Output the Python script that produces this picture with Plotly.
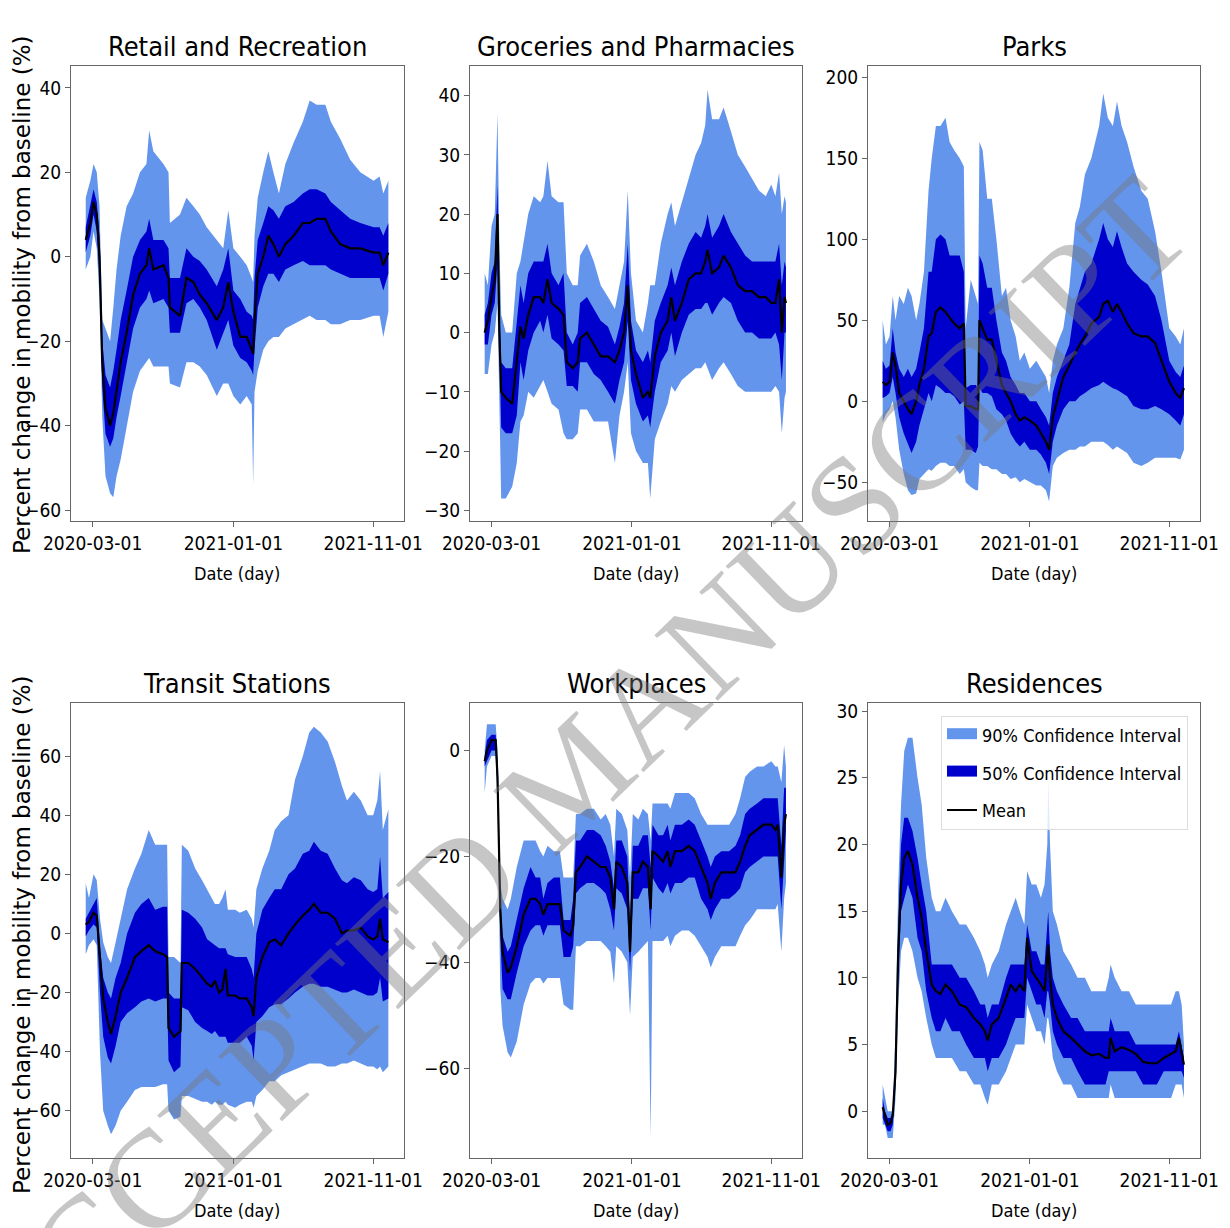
import plotly.graph_objects as go

LIGHT = "#6495ED"
DARK = "#0000CD"
NARROW = "DejaVu Sans Condensed, Liberation Sans Narrow, sans-serif"

# ---------------- Retail and Recreation ----------------
retail_dates = ["2020-02-15","2020-02-25","2020-03-03","2020-03-10","2020-03-16","2020-03-22","2020-03-29","2020-04-08","2020-04-15","2020-04-22","2020-05-01","2020-05-14","2020-05-28","2020-06-12","2020-06-26","2020-07-02","2020-07-11","2020-08-02","2020-08-13","2020-08-16","2020-09-07","2020-09-21","2020-10-06","2020-10-20","2020-11-04","2020-11-26","2020-12-10","2020-12-21","2021-01-01","2021-01-16","2021-01-30","2021-02-10","2021-02-13","2021-02-16","2021-02-23","2021-03-07","2021-03-18","2021-03-29","2021-04-10","2021-04-24","2021-05-12","2021-06-01","2021-06-16","2021-07-01","2021-07-20","2021-08-01","2021-08-21","2021-09-12","2021-10-04","2021-11-02","2021-11-15","2021-11-23","2021-12-04"]
retail_lo90 = [-3,0,6,2,-10,-38,-52,-56,-57,-52,-48,-40,-32,-27,-25,-24,-26,-26,-26,-30,-31,-25,-25,-26,-28,-33,-30,-30,-33,-35,-33,-35,-54,-32,-27,-22,-20,-19,-19,-17,-16,-15,-14,-15,-15,-16,-16,-15,-15,-14,-14,-19,-13]
retail_lo50 = [1,5,10,6,-5,-31,-42,-45,-43,-38,-33,-25,-17,-12,-10,-8,-11,-10,-12,-18,-18,-11,-10,-12,-15,-22,-18,-15,-21,-24,-25,-27,-28,-22,-12,-7,-4,-4,-6,-3,-2,-1,-2,-2,-2,-3,-4,-5,-5,-5,-5,-8,-4]
retail_mean = [4,8,13,10,0,-25,-36,-40,-37,-32,-25,-18,-9,-4,-2,2,-3,-2,-5,-12,-14,-5,-6,-9,-11,-15,-12,-6,-13,-19,-19,-22,-23,-15,-4,0,5,3,0,3,5,8,8,9,9,6,3,2,2,1,1,-2,1]
retail_hi50 = [7,12,16,13,5,-20,-28,-31,-27,-22,-15,-8,0,4,6,9,4,4,2,-5,-5,2,0,-1,-3,-7,-3,2,-8,-10,-13,-14,-15,-5,4,8,12,11,9,12,13,15,16,16,15,13,11,9,8,7,7,5,8]
retail_hi90 = [14,18,22,20,12,-15,-17,-20,-12,-3,5,12,15,20,22,30,25,22,20,8,10,14,12,10,7,4,2,11,2,0,-2,-5,-6,5,14,20,25,20,15,22,27,32,37,36,36,32,28,23,20,18,19,15,18]

# ---------------- Groceries and Pharmacies ----------------
groc_dates = ["2020-02-15","2020-02-22","2020-03-01","2020-03-08","2020-03-14","2020-03-18","2020-03-22","2020-04-01","2020-04-15","2020-04-25","2020-05-03","2020-05-10","2020-05-20","2020-06-01","2020-06-15","2020-06-22","2020-07-01","2020-07-10","2020-07-25","2020-08-05","2020-08-12","2020-08-25","2020-09-05","2020-09-10","2020-09-25","2020-10-10","2020-10-25","2020-11-10","2020-11-25","2020-12-05","2020-12-15","2020-12-23","2020-12-30","2021-01-10","2021-01-25","2021-02-05","2021-02-10","2021-02-20","2021-03-05","2021-03-20","2021-03-28","2021-04-05","2021-04-20","2021-05-05","2021-05-20","2021-06-01","2021-06-10","2021-06-15","2021-06-25","2021-07-10","2021-07-20","2021-08-05","2021-08-20","2021-09-05","2021-09-20","2021-10-05","2021-10-20","2021-11-01","2021-11-10","2021-11-18","2021-11-24","2021-11-30","2021-12-03"]
groc_lo90 = [-7,-7,-2,0,5,-15,-28,-28,-26,-22,-15,-14,-10,-11,-9,-8,-10,-12,-13,-17,-18,-18,-17,-13,-13,-15,-15,-15,-22,-14,-10,-5,-17,-20,-22,-22,-28,-18,-15,-12,-9,-10,-8,-7,-6,-6,-5,-6,-8,-6,-5,-7,-9,-10,-10,-10,-10,-10,-9,-10,-17,-11,-10]
groc_lo50 = [-2,-2,3,5,12,-5,-16,-17,-17,-14,-5,-8,-3,0,2,0,3,-1,-2,-3,-9,-9,-10,-5,-5,-7,-8,-10,-12,-8,-5,2,-8,-12,-15,-14,-16,-10,-5,-3,0,-4,0,3,4,4,5,5,3,5,6,5,2,0,0,-1,-1,-1,0,-2,-8,0,0]
groc_mean = [0,2,6,9,20,0,-10,-11,-12,-5,1,-1,3,6,6,5,9,5,4,3,-5,-6,-5,-1,0,-2,-4,-4,-5,-3,0,8,-3,-7,-11,-10,-11,-4,0,2,6,2,5,9,10,10,12,14,10,11,13,11,8,7,7,6,6,5,5,9,0,6,5]
groc_hi50 = [3,5,10,12,25,5,-5,-6,-6,2,8,5,10,12,12,12,15,10,8,10,0,-2,0,5,6,4,2,1,-2,1,5,15,2,-3,-5,-3,-5,2,5,8,11,8,12,15,17,16,18,20,16,18,20,17,15,13,12,12,12,12,12,15,8,12,11]
groc_hi90 = [10,8,18,20,37,15,3,0,0,10,12,15,20,23,22,23,29,23,22,22,10,8,8,13,15,12,8,6,4,8,12,24,10,2,0,5,8,8,15,20,22,18,22,26,30,32,35,41,36,36,38,34,30,28,26,24,23,25,23,27,20,23,22]

# ---------------- Parks ----------------
parks_dates = ["2020-02-15","2020-02-22","2020-03-01","2020-03-08","2020-03-14","2020-03-22","2020-04-01","2020-04-10","2020-04-18","2020-04-28","2020-05-05","2020-05-15","2020-05-25","2020-06-01","2020-06-10","2020-06-20","2020-07-01","2020-07-10","2020-07-20","2020-08-01","2020-08-10","2020-08-14","2020-08-25","2020-09-05","2020-09-10","2020-09-13","2020-09-20","2020-09-30","2020-10-10","2020-10-20","2020-11-01","2020-11-10","2020-11-20","2020-12-01","2020-12-10","2020-12-20","2021-01-01","2021-01-15","2021-01-25","2021-02-05","2021-02-12","2021-02-20","2021-03-01","2021-03-15","2021-03-28","2021-04-10","2021-04-20","2021-05-01","2021-05-15","2021-06-01","2021-06-10","2021-06-20","2021-07-01","2021-07-10","2021-07-20","2021-08-01","2021-08-15","2021-09-01","2021-09-15","2021-10-01","2021-10-15","2021-11-01","2021-11-15","2021-11-25","2021-12-03"]
parks_lo90 = [-13,-8,-5,0,-10,-30,-45,-55,-58,-57,-48,-45,-42,-43,-40,-38,-38,-40,-40,-45,-42,-50,-53,-55,-55,-38,-40,-40,-42,-42,-45,-45,-48,-47,-50,-48,-50,-52,-52,-55,-62,-40,-35,-32,-30,-30,-28,-28,-25,-25,-25,-27,-30,-28,-30,-32,-38,-40,-38,-35,-35,-35,-35,-36,-30]
parks_lo50 = [2,3,5,15,5,-10,-20,-27,-32,-25,-15,-5,5,0,10,8,5,5,3,-2,0,-30,-30,-32,-28,8,5,5,3,-5,-8,-12,-20,-25,-28,-25,-30,-30,-33,-38,-45,-25,-15,-5,0,0,3,5,8,10,12,10,8,7,5,3,-3,-5,-5,-3,-5,-8,-12,-15,-8]
parks_mean = [12,10,12,30,22,5,0,-5,-8,0,10,20,40,42,55,58,55,52,48,45,48,-3,-3,-5,-5,50,45,38,38,25,10,5,0,-8,-12,-10,-12,-15,-20,-25,-30,-10,0,15,22,30,35,40,48,52,60,62,55,60,55,48,42,40,40,36,25,12,5,2,8]
parks_hi50 = [25,20,22,45,30,20,15,20,15,20,30,45,80,80,100,103,100,90,90,90,80,8,10,10,8,90,85,70,70,50,30,25,15,10,5,5,0,0,-5,-10,-15,5,15,25,35,60,70,80,85,100,110,100,95,105,95,85,80,75,72,65,50,25,18,15,22]
parks_hi90 = [50,35,40,65,50,65,60,70,65,50,60,80,130,150,170,170,175,160,155,150,145,45,75,65,60,160,155,125,125,100,65,70,50,40,25,30,20,25,20,15,5,25,35,45,70,110,120,140,150,170,190,175,170,185,170,160,145,130,125,105,80,45,40,35,45]

# ---------------- Transit Stations ----------------
transit_dates = ["2020-02-15","2020-02-22","2020-03-03","2020-03-10","2020-03-17","2020-03-24","2020-04-03","2020-04-10","2020-04-20","2020-05-01","2020-05-15","2020-06-01","2020-06-15","2020-07-01","2020-07-15","2020-08-01","2020-08-10","2020-08-13","2020-08-25","2020-09-08","2020-09-11","2020-09-25","2020-10-10","2020-10-25","2020-11-05","2020-11-15","2020-11-22","2020-12-01","2020-12-08","2020-12-15","2020-12-20","2021-01-05","2021-01-15","2021-01-30","2021-02-10","2021-02-14","2021-02-20","2021-03-05","2021-03-20","2021-04-01","2021-04-15","2021-05-01","2021-05-15","2021-06-01","2021-06-15","2021-06-25","2021-07-10","2021-07-25","2021-08-10","2021-08-25","2021-09-05","2021-09-20","2021-10-05","2021-10-20","2021-11-01","2021-11-10","2021-11-16","2021-11-22","2021-12-04"]
transit_lo90 = [-7,-4,-2,-4,-40,-60,-65,-68,-65,-60,-57,-53,-52,-52,-52,-51,-51,-60,-63,-62,-55,-55,-56,-57,-57,-58,-57,-58,-58,-57,-58,-59,-58,-57,-57,-59,-55,-53,-50,-50,-48,-47,-46,-45,-44,-44,-44,-45,-45,-44,-44,-43,-44,-45,-45,-46,-45,-47,-45]
transit_lo50 = [-1,1,3,2,-20,-35,-42,-44,-38,-30,-27,-25,-23,-22,-23,-22,-22,-43,-47,-45,-25,-26,-30,-32,-33,-34,-33,-35,-35,-35,-37,-37,-37,-35,-38,-43,-30,-28,-25,-24,-24,-22,-20,-18,-17,-17,-18,-18,-19,-20,-20,-19,-20,-21,-21,-20,-15,-23,-22]
transit_mean = [3,4,7,6,-8,-22,-30,-34,-28,-20,-15,-8,-6,-4,-6,-7,-8,-32,-35,-33,-10,-10,-12,-15,-17,-18,-16,-20,-19,-12,-21,-21,-22,-22,-25,-28,-15,-8,-3,-2,-4,0,3,6,8,10,7,7,5,0,1,1,2,-1,-2,-1,5,-2,-3]
transit_hi50 = [5,7,10,12,-5,-15,-20,-22,-15,-10,0,7,10,12,8,9,9,-20,-22,-22,8,7,5,2,-2,-3,-4,-5,-5,-5,-7,-8,-8,-8,-12,-15,0,8,12,15,15,20,22,27,28,31,28,27,22,18,17,19,18,15,14,15,26,12,14]
transit_hi90 = [17,12,20,18,5,-3,-8,-10,-3,5,15,22,27,35,30,30,30,-8,-8,-10,30,28,22,18,15,12,10,10,12,15,8,8,7,8,5,2,15,22,28,35,38,40,52,60,68,70,68,65,58,50,45,48,45,40,40,45,55,35,42]

# ---------------- Workplaces ----------------
work_dates = ["2020-02-15","2020-02-20","2020-03-01","2020-03-10","2020-03-14","2020-03-20","2020-03-25","2020-04-05","2020-04-12","2020-04-25","2020-05-10","2020-05-25","2020-06-05","2020-06-15","2020-06-22","2020-07-01","2020-07-15","2020-07-28","2020-08-05","2020-08-20","2020-08-26","2020-09-01","2020-09-10","2020-09-25","2020-10-10","2020-10-25","2020-11-05","2020-11-15","2020-11-23","2020-11-28","2020-12-10","2020-12-22","2020-12-28","2021-01-03","2021-01-15","2021-01-25","2021-02-05","2021-02-11","2021-02-15","2021-02-28","2021-03-10","2021-03-20","2021-03-26","2021-04-05","2021-04-20","2021-05-05","2021-05-18","2021-06-01","2021-06-15","2021-06-22","2021-07-01","2021-07-15","2021-08-01","2021-08-15","2021-08-25","2021-09-05","2021-09-15","2021-10-01","2021-10-15","2021-11-01","2021-11-10","2021-11-15","2021-11-23","2021-11-29","2021-12-03"]
work_lo90 = [-8,-3,-1,-1,-10,-45,-52,-57,-58,-55,-48,-44,-43,-43,-44,-43,-43,-43,-48,-49,-49,-37,-37,-36,-36,-36,-37,-38,-44,-37,-38,-40,-50,-39,-38,-37,-36,-73,-36,-36,-36,-35,-37,-35,-34,-34,-35,-37,-39,-41,-39,-37,-37,-37,-35,-33,-32,-30,-30,-30,-30,-29,-38,-28,-25]
work_lo50 = [-3,-2,0,0,-8,-35,-45,-47,-47,-42,-37,-34,-33,-33,-35,-33,-33,-33,-39,-39,-37,-27,-26,-25,-25,-26,-27,-30,-34,-26,-27,-30,-42,-28,-28,-26,-26,-34,-24,-26,-27,-25,-27,-25,-25,-24,-24,-28,-30,-32,-30,-28,-28,-27,-26,-23,-22,-21,-20,-20,-20,-20,-30,-20,-15]
work_mean = [-2,0,2,2,-5,-30,-38,-42,-41,-37,-31,-28,-28,-29,-31,-29,-29,-29,-34,-35,-33,-23,-22,-20,-21,-22,-22,-24,-30,-21,-22,-25,-38,-23,-23,-21,-22,-30,-19,-20,-21,-19,-22,-19,-19,-18,-19,-22,-25,-28,-25,-23,-23,-23,-21,-18,-16,-15,-14,-14,-15,-14,-24,-14,-12]
work_hi50 = [-1,2,3,3,-2,-28,-35,-38,-37,-32,-26,-22,-24,-24,-28,-25,-24,-24,-32,-32,-28,-17,-17,-15,-15,-16,-18,-21,-26,-17,-17,-20,-33,-18,-18,-16,-16,-22,-14,-16,-16,-14,-17,-14,-14,-13,-14,-17,-20,-22,-20,-19,-19,-18,-16,-12,-11,-10,-9,-9,-9,-9,-18,-7,-7]
work_hi90 = [0,5,5,5,0,-25,-28,-30,-28,-22,-17,-17,-17,-19,-20,-18,-19,-19,-24,-24,-24,-12,-12,-11,-11,-13,-12,-14,-20,-11,-12,-15,-24,-12,-13,-11,-12,-17,-10,-10,-10,-10,-11,-8,-8,-8,-9,-12,-14,-14,-14,-14,-14,-12,-9,-5,-4,-3,-3,-2,-3,-3,-6,1,-3]

# ---------------- Residences ----------------
res_dates = ["2020-02-15","2020-02-20","2020-02-26","2020-03-03","2020-03-08","2020-03-14","2020-03-20","2020-03-26","2020-04-02","2020-04-10","2020-04-20","2020-05-01","2020-05-10","2020-05-20","2020-06-01","2020-06-10","2020-06-20","2020-07-01","2020-07-15","2020-08-01","2020-08-15","2020-09-01","2020-09-15","2020-09-25","2020-10-01","2020-10-10","2020-10-25","2020-11-10","2020-11-20","2020-12-01","2020-12-10","2020-12-20","2020-12-26","2021-01-05","2021-01-15","2021-01-25","2021-02-02","2021-02-08","2021-02-10","2021-02-14","2021-02-20","2021-03-01","2021-03-15","2021-04-01","2021-04-15","2021-05-01","2021-05-15","2021-06-01","2021-06-15","2021-06-22","2021-06-26","2021-07-05","2021-07-20","2021-08-05","2021-08-20","2021-09-05","2021-09-20","2021-10-05","2021-10-20","2021-11-05","2021-11-15","2021-11-22","2021-11-28","2021-12-03"]
res_lo90 = [-1,-1,-2,-2,-2,1,8,12,13,13,12,10,9,7,5,4,4,4,4,3,3,2,2,1,0.5,2,2,3,4,5,5,5,8,7,6,6,5,7,7,6,4,3,2,2,1,1,1,1,1,1,2,1,1,1,1,1,1,1,1,1,2,2,2,1]
res_lo50 = [-0.5,-1,-1.5,-1.5,-1,2,10,15,16,17,16,13,12,9,7,6,6,7,6,6,5,4,4,4,3,4,4,5,6,7,7,7,10,9,8,8,7,9,9,8,6,5,4,4,3,2,2,2,2,3,3,3,3,3,3,2,2,2,3,3,3,3,3,2.5]
res_mean = [0.3,-0.3,-1,-0.9,-0.3,3,12,17,19,19.5,18.5,16,14.5,12,9.5,9,8.8,9.5,9,8,7.8,7,6.5,6,5.3,6.5,7,8.5,9.5,9,9.5,9,13,10.5,10,9.5,9,12,12.5,10,8,7,6,5.5,5,4.5,4.2,4.3,4,4,5.5,4.5,4.8,4.6,4.3,3.7,3.6,3.6,4,4.3,4.5,5.5,4.5,3.5]
res_hi50 = [1,0,-0.5,-0.5,0,4,14,20,22,22,21,19,17,15,11,11,11,11,11,10,10,9,8,8,7,8,8,10,11,11,11,11,14,12,12,11,11,14,15,12,10,9,8,7,7,6,6,6,6,6,7,6,6,6,5,5,5,5,5,5,5,6,5,4]
res_hi90 = [2,1,0,0,0,6,17,23,27,28,28,25,23,19,16,15,15,16,15,14,14,13,12,11,10,11,12,14,15,16,15,14,18,17,17,16,17,20,25,20,15,14,12,11,10,10,9,9,9,10,11,10,9,9,8,8,8,8,8,8,9,9,8,5]

titles = ["Retail and Recreation", "Groceries and Pharmacies", "Parks",
          "Transit Stations", "Workplaces", "Residences"]
legend_names = ["90% Confidence Interval", "50% Confidence Interval", "Mean"]
panels = [
    (retail_dates, retail_lo90, retail_lo50, retail_mean, retail_hi50, retail_hi90),
    (groc_dates, groc_lo90, groc_lo50, groc_mean, groc_hi50, groc_hi90),
    (parks_dates, parks_lo90, parks_lo50, parks_mean, parks_hi50, parks_hi90),
    (transit_dates, transit_lo90, transit_lo50, transit_mean, transit_hi50, transit_hi90),
    (work_dates, work_lo90, work_lo50, work_mean, work_hi50, work_hi90),
    (res_dates, res_lo90, res_lo50, res_mean, res_hi50, res_hi90),
]
y_ranges = [[-62.6, 45.2], [-31.8, 45.0], [-74, 207], [-76, 78], [-77, 9], [-3.5, 30.6]]
y_ticks = [list(range(-60, 41, 20)), list(range(-30, 41, 10)), list(range(-50, 201, 50)),
           list(range(-60, 61, 20)), list(range(-60, 1, 20)), list(range(0, 31, 5))]
x_tickvals = ["2020-03-01", "2021-01-01", "2021-11-01"]
x_ticktext = ["2020-03-01", "2021-01-01", "2021-11-01"]
x_range = ["2020-01-14", "2022-01-07"]

# The page body has an 8px margin: the figure is drawn 8px in from the top-left.
OFF = 8
W, H = 1230 - OFF, 1228 - OFF


def px(x):
    return (x - OFF) / W


def py(y):
    return 1 - (y - OFF) / H


col_px = [(71, 404), (470, 802), (868, 1200)]
row_px = [(66, 521), (703, 1158)]

fig = go.Figure()
layout = {}
annotations = []
for i, (dates, lo90, lo50, mean, hi50, hi90) in enumerate(panels):
    r, c = divmod(i, 3)
    n = i + 1
    xa = "x" if n == 1 else f"x{n}"
    ya = "y" if n == 1 else f"y{n}"
    fig.add_trace(go.Scatter(x=dates, y=lo90, mode="lines", line=dict(width=0, color=LIGHT),
                             showlegend=False, hoverinfo="skip", xaxis=xa, yaxis=ya))
    fig.add_trace(go.Scatter(x=dates, y=hi90, mode="lines", line=dict(width=0, color=LIGHT),
                             fill="tonexty", fillcolor=LIGHT, name=legend_names[0],
                             showlegend=False, xaxis=xa, yaxis=ya))
    fig.add_trace(go.Scatter(x=dates, y=lo50, mode="lines", line=dict(width=0, color=DARK),
                             showlegend=False, hoverinfo="skip", xaxis=xa, yaxis=ya))
    fig.add_trace(go.Scatter(x=dates, y=hi50, mode="lines", line=dict(width=0, color=DARK),
                             fill="tonexty", fillcolor=DARK, name=legend_names[1],
                             showlegend=False, xaxis=xa, yaxis=ya))
    fig.add_trace(go.Scatter(x=dates, y=mean, mode="lines", line=dict(width=2.2, color="black"),
                             name=legend_names[2], showlegend=False, xaxis=xa, yaxis=ya))

    x0, x1 = col_px[c]
    t0, t1 = row_px[r]
    xdom = [px(x0), px(x1)]
    ydom = [py(t1), py(t0)]
    axis_common = dict(showline=True, mirror=True, linecolor="#666666", linewidth=1,
                       ticks="outside", ticklen=5, tickcolor="#666666", showgrid=False,
                       zeroline=False, automargin=False,
                       tickfont=dict(family=NARROW, size=19, color="black"))
    layout["xaxis" if n == 1 else f"xaxis{n}"] = dict(
        domain=xdom, anchor=ya, range=x_range, type="date",
        tickvals=x_tickvals, ticktext=x_ticktext, **axis_common)
    layout["yaxis" if n == 1 else f"yaxis{n}"] = dict(
        domain=ydom, anchor=xa, range=y_ranges[i], tickvals=y_ticks[i], **axis_common)

    cx = px((x0 + x1) / 2)
    title_y = [46, 683][r]
    annotations.append(dict(text=titles[i], x=cx, y=py(title_y), xref="paper", yref="paper",
                            showarrow=False, xanchor="center", yanchor="middle",
                            font=dict(family=NARROW, size=27, color="black")))
    xt_y = [573, 1210][r]
    annotations.append(dict(text="Date (day)", x=cx, y=py(xt_y), xref="paper", yref="paper",
                            showarrow=False, xanchor="center", yanchor="middle",
                            font=dict(family=NARROW, size=18, color="black")))

# legend entries (shown in the Residences panel, as in the reference)
fig.add_trace(go.Scatter(x=[None], y=[None], mode="lines", name=legend_names[0],
                         line=dict(color=LIGHT, width=16), fill="tozeroy", fillcolor=LIGHT,
                         legendgroup="g90", xaxis="x6", yaxis="y6"))
fig.add_trace(go.Scatter(x=[None], y=[None], mode="lines", name=legend_names[1],
                         line=dict(color=DARK, width=16), fill="tozeroy", fillcolor=DARK,
                         legendgroup="g50", xaxis="x6", yaxis="y6"))
fig.add_trace(go.Scatter(x=[None], y=[None], mode="lines", name=legend_names[2],
                         line=dict(color="black", width=2), legendgroup="gm",
                         xaxis="x6", yaxis="y6"))

for yc in [295, 935]:
    annotations.append(dict(text="Percent change in mobility from baseline (%)", x=px(22),
                            y=py(yc), xref="paper", yref="paper", showarrow=False,
                            textangle=-90, xanchor="center", yanchor="middle",
                            font=dict(family="DejaVu Sans", size=23, color="black")))

# watermark
annotations.append(dict(text="ACCEPTED MANUSCRIPT", x=px(572), y=py(776), xref="paper",
                        yref="paper", showarrow=False, textangle=-44, xanchor="center",
                        yanchor="middle",
                        font=dict(family="Liberation Serif", size=139, color="rgba(120,120,120,0.42)")))

fig.update_layout(
    **layout,
    template="none",
    annotations=annotations,
    width=W, height=H, autosize=False,
    margin=dict(l=0, r=0, t=0, b=0),
    paper_bgcolor="white", plot_bgcolor="white",
    legend=dict(x=px(941), y=py(716), xanchor="left", yanchor="top",
                bgcolor="rgba(255,255,255,0.8)", bordercolor="#dddddd", borderwidth=1,
                font=dict(family=NARROW, size=18, color="black"), tracegroupgap=11,
                itemwidth=30, traceorder="grouped"),
    showlegend=True,
)

fig.write_html("out.html")
